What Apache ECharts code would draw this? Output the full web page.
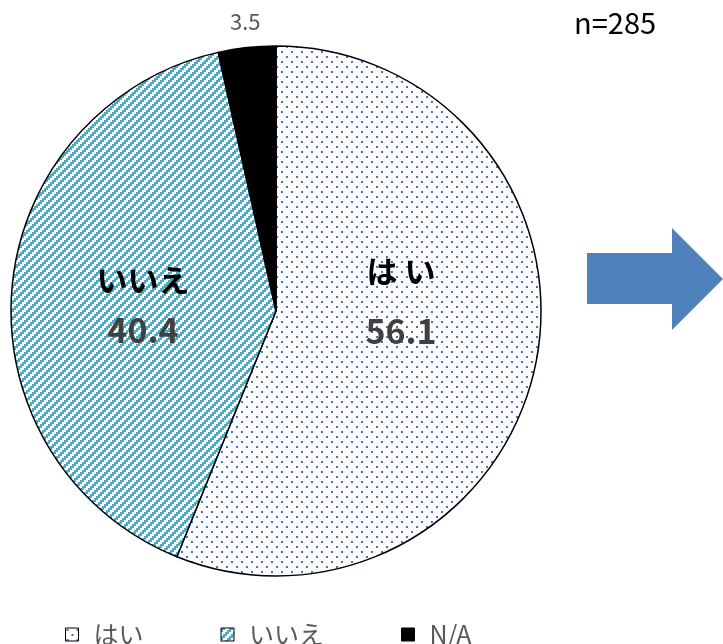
<!DOCTYPE html>
<html lang="ja">
<head>
    <meta charset="UTF-8">
    <title>pie</title>
    <script src="https://cdn.jsdelivr.net/npm/echarts@6/dist/echarts.min.js"></script>
</head>
<body style="margin:0;background:#fff;">
<div id="container" style="width:723px;height:644px;"></div>
<script>
    var categories = ['はい', 'いいえ', 'N/A'];
    var values = [56.1, 40.4, 3.5];
    var sampleSize = 285;

    // 点模様
    function dotPattern() {
        var c = document.createElement('canvas');
        c.width = 10; c.height = 10;
        var ctx = c.getContext('2d');
        ctx.fillStyle = '#fff';
        ctx.fillRect(0, 0, 10, 10);
        ctx.fillStyle = '#4472c4';
        ctx.fillRect(1, 1, 2, 2);
        ctx.fillRect(6, 6, 2, 2);
        return c;
    }
    // 斜線模様 (2px の階段)
    function stripePattern() {
        var c = document.createElement('canvas');
        c.width = 8; c.height = 8;
        var ctx = c.getContext('2d');
        ctx.fillStyle = '#fff';
        ctx.fillRect(0, 0, 8, 8);
        ctx.fillStyle = '#4bacc6';
        for (var r = 0; r < 4; r++) {
            for (var col = 0; col < 4; col++) {
                if ((col + r) % 4 < 2) ctx.fillRect(col * 2, r * 2, 2, 2);
            }
        }
        return c;
    }

    var colors = [
        {image: dotPattern(), repeat: 'repeat'},
        {image: stripePattern(), repeat: 'repeat'},
        '#000'
    ];

    function bigLabel(offset, gap) {
        return {
            show: true,
            position: 'inside',
            offset: offset,
            formatter: function (p) {
                var name = p.name === 'はい' ? 'は い' : p.name;
                return '{n|' + name + '}\n{v|' + p.value.toFixed(1) + '}';
            },
            rich: {
                n: {fontSize: 31, fontWeight: 'bold', color: '#000', fontFamily: 'Noto Sans CJK JP', lineHeight: gap},
                v: {fontSize: 34, fontWeight: 'bold', color: '#404040', fontFamily: 'Noto Sans CJK JP', lineHeight: gap}
            }
        };
    }

    var pieData = categories.map(function (name, i) {
        var item = {name: name, value: values[i], itemStyle: {color: colors[i]}};
        if (i === 0) {
            item.label = bigLabel([-8, -36], 60);
        } else if (i === 1) {
            item.label = bigLabel([2, 5], 50);
        } else {
            item.label = {
                show: true,
                position: 'outside',
                offset: [21, -4],
                formatter: function (p) { return p.value.toFixed(1); },
                fontSize: 22,
                color: '#595959',
                fontFamily: 'Noto Sans CJK JP'
            };
            item.labelLine = {show: false, length: 22, length2: 0};
        }
        return item;
    });

    var myChart = echarts.init(document.getElementById('container'));
    myChart.setOption({
        animation: false,
        backgroundColor: '#fff',
        title: {
            text: 'n=' + sampleSize,
            left: 569,
            top: 3,
            textStyle: {fontSize: 29, fontWeight: 'normal', color: '#000', fontFamily: 'Noto Sans CJK JP'}
        },
        legend: {
            data: categories,
            top: 617,
            left: 60,
            itemWidth: 13,
            itemHeight: 13,
            itemGap: 77,
            icon: 'rect',
            textStyle: {fontSize: 25, color: '#595959', fontFamily: 'Noto Sans CJK JP', padding: [0, 0, 0, 10]},
            itemStyle: {borderColor: '#000', borderWidth: 1}
        },
        graphic: [{
            type: 'polygon',
            shape: {points: [[587, 253], [672, 253], [672, 228], [723, 279], [672, 330], [672, 304], [587, 304]]},
            style: {fill: '#4f81bd'}
        }],
        series: [{
            type: 'pie',
            center: [276, 311],
            radius: 265,
            startAngle: 90,
            clockwise: true,
            itemStyle: {borderColor: '#000', borderWidth: 1.5},
            emphasis: {disabled: true},
            data: pieData
        }]
    });
</script>
</body>
</html>
